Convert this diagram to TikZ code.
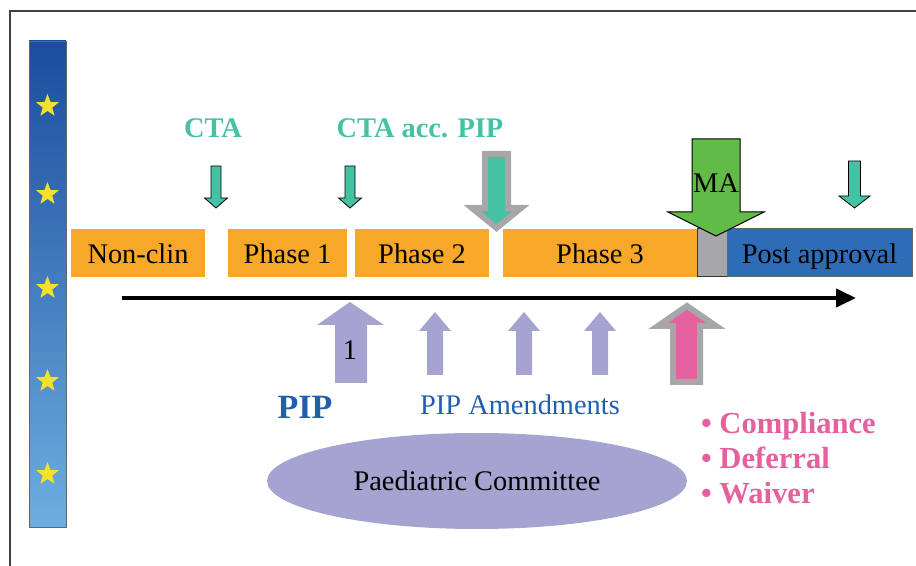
\documentclass[tikz,border=0pt]{standalone}
\usepackage{fontspec}
\setmainfont{Liberation Serif}
\usetikzlibrary{shapes.geometric,arrows.meta}

\definecolor{phaseorange}{HTML}{F8A828}
\definecolor{postblue}{HTML}{2E6DB5}
\definecolor{ctateal}{HTML}{45C1A4}
\definecolor{matgreen}{HTML}{62BB46}
\definecolor{piplilac}{HTML}{A5A3D0}
\definecolor{pipblue}{HTML}{1F5FAD}
\definecolor{pinkish}{HTML}{E4609E}
\definecolor{outgrey}{HTML}{A7A7A9}
\definecolor{eutop}{HTML}{1B4C9E}
\definecolor{eubottom}{HTML}{6EAEE0}
\definecolor{staryellow}{HTML}{F5E02A}

\tikzset{
  phasebox/.style={fill=phaseorange, minimum height=24pt, inner sep=0pt, text height=11.5pt, text depth=1pt, font=\fontsize{14.2}{17}\selectfont},
  eustar/.style={star, star points=5, star point ratio=2.4, fill=staryellow, minimum size=12pt, inner sep=0pt},
  ctalabel/.style={text=ctateal, font=\fontsize{14.2}{17}\selectfont\bfseries},
  plain/.style={font=\fontsize{14.2}{17}\selectfont}
}

\begin{document}
\begin{tikzpicture}[x=0.5pt,y=-0.5pt]
    \useasboundingbox (0,0) rectangle (916,566);

    %marco
    \draw[line width=0.8pt, black!75] (916,11) -- (10,11) -- (10,566); %Borde superior e izquierdo

    %barra europea
    \shade[top color=eutop, bottom color=eubottom, draw=black!60, line width=0.4pt] (29,41) rectangle (66,527); %Barra azul
    \node[eustar] (star1) at (47.5,106) {}; %Estrella 1
    \node[eustar] (star2) at (47.5,194) {}; %Estrella 2
    \node[eustar] (star3) at (47.5,288) {}; %Estrella 3
    \node[eustar] (star4) at (47.5,381) {}; %Estrella 4
    \node[eustar] (star5) at (47.5,474) {}; %Estrella 5

    %fases
    \node[phasebox, minimum width=67pt] (nonclin) at (138,253) {Non-clin}; %Fase no clinica
    \node[phasebox, minimum width=59.5pt] (phaseone) at (287.5,253) {Phase 1}; %Fase 1
    \node[phasebox, minimum width=67pt] (phasetwo) at (422,253) {Phase 2}; %Fase 2
    \node[phasebox, minimum width=97pt] (phasethree) at (600,253) {Phase 3}; %Fase 3
    \node[phasebox, fill=outgrey, draw=black!80, line width=0.5pt, minimum width=15pt] (gap) at (712,253) {}; %Caja gris
    \node[phasebox, fill=postblue, draw=black!60, line width=0.5pt, minimum width=92.5pt] (post) at (819.5,253) {Post approval}; %Post aprobacion

    %linea de tiempo
    \coordinate (tstart) at (122,298);
    \coordinate (tend) at (856,298);
    \draw[line width=2pt, -{Triangle[length=10pt,width=9pt]}] (tstart) -- (tend); %Flecha del tiempo

    %CTA
    \node[ctalabel] (cta) at (213,128) {CTA}; %Etiqueta CTA
    \node[ctalabel] (ctapip) at (420,128) {CTA acc. PIP}; %Etiqueta CTA acc. PIP
    \draw[fill=ctateal, line width=0.4pt] (211,166) -- (221,166) -- (221,198) -- (227.5,198) -- (216,208) -- (204.5,198) -- (211,198) -- cycle; %Flecha CTA 1
    \draw[fill=ctateal, line width=0.4pt] (345,166) -- (355,166) -- (355,198) -- (361.5,198) -- (350,208) -- (338.5,198) -- (345,198) -- cycle; %Flecha CTA 2
    \draw[fill=ctateal, line width=0.4pt] (848.5,161) -- (860.5,161) -- (860.5,196) -- (870,196) -- (854.5,208) -- (839,196) -- (848.5,196) -- cycle; %Flecha post
    \draw[fill=ctateal, draw=outgrey, line width=3pt] (485,154) -- (508,154) -- (508,208) -- (521,208) -- (496.5,228) -- (472,208) -- (485,208) -- cycle; %Flecha CTA acc. PIP

    %MA
    \draw[fill=matgreen, line width=0.5pt] (692,139) -- (740,139) -- (740,212) -- (764,212) -- (716,236) -- (668,212) -- (692,212) -- cycle; %Flecha MA
    \node[plain] (ma) at (716,183) {MA}; %Etiqueta MA

    %PIP
    \fill[piplilac] (350,302) -- (384,325) -- (367,325) -- (367,383) -- (335,383) -- (335,325) -- (317,325) -- cycle; %Flecha PIP
    \node[plain] (one) at (350,350) {1}; %Etiqueta 1
    \fill[piplilac] (435,312) -- (451,331) -- (443,331) -- (443,375) -- (427,375) -- (427,331) -- (419,331) -- cycle; %Enmienda 1
    \fill[piplilac] (524,312) -- (540,331) -- (532,331) -- (532,375) -- (516,375) -- (516,331) -- (508,331) -- cycle; %Enmienda 2
    \fill[piplilac] (600,312) -- (616,331) -- (608,331) -- (608,375) -- (592,375) -- (592,331) -- (584,331) -- cycle; %Enmienda 3
    \draw[fill=pinkish, draw=outgrey, line width=3pt] (687,306) -- (716,326) -- (700,326) -- (700,382) -- (673,382) -- (673,326) -- (658,326) -- cycle; %Flecha cumplimiento

    \node[text=pipblue, font=\fontsize{17}{20}\selectfont\bfseries] (pip) at (305,407) {PIP}; %Etiqueta PIP
    \node[plain, text=pipblue] (amend) at (520,405) {PIP Amendments}; %Etiqueta enmiendas

    %comite
    \node[ellipse, fill=piplilac, minimum width=210pt, minimum height=48pt, inner sep=0pt, plain] (pdco) at (477,481) {Paediatric Committee}; %Elipse comite

    \node[anchor=west, align=left, text=pinkish, font=\fontsize{15.3}{17.5}\selectfont\bfseries] (outcomes) at (694,458) {\textbullet\ Compliance\\ \textbullet\ Deferral\\ \textbullet\ Waiver}; %Lista
\end{tikzpicture}
\end{document}
